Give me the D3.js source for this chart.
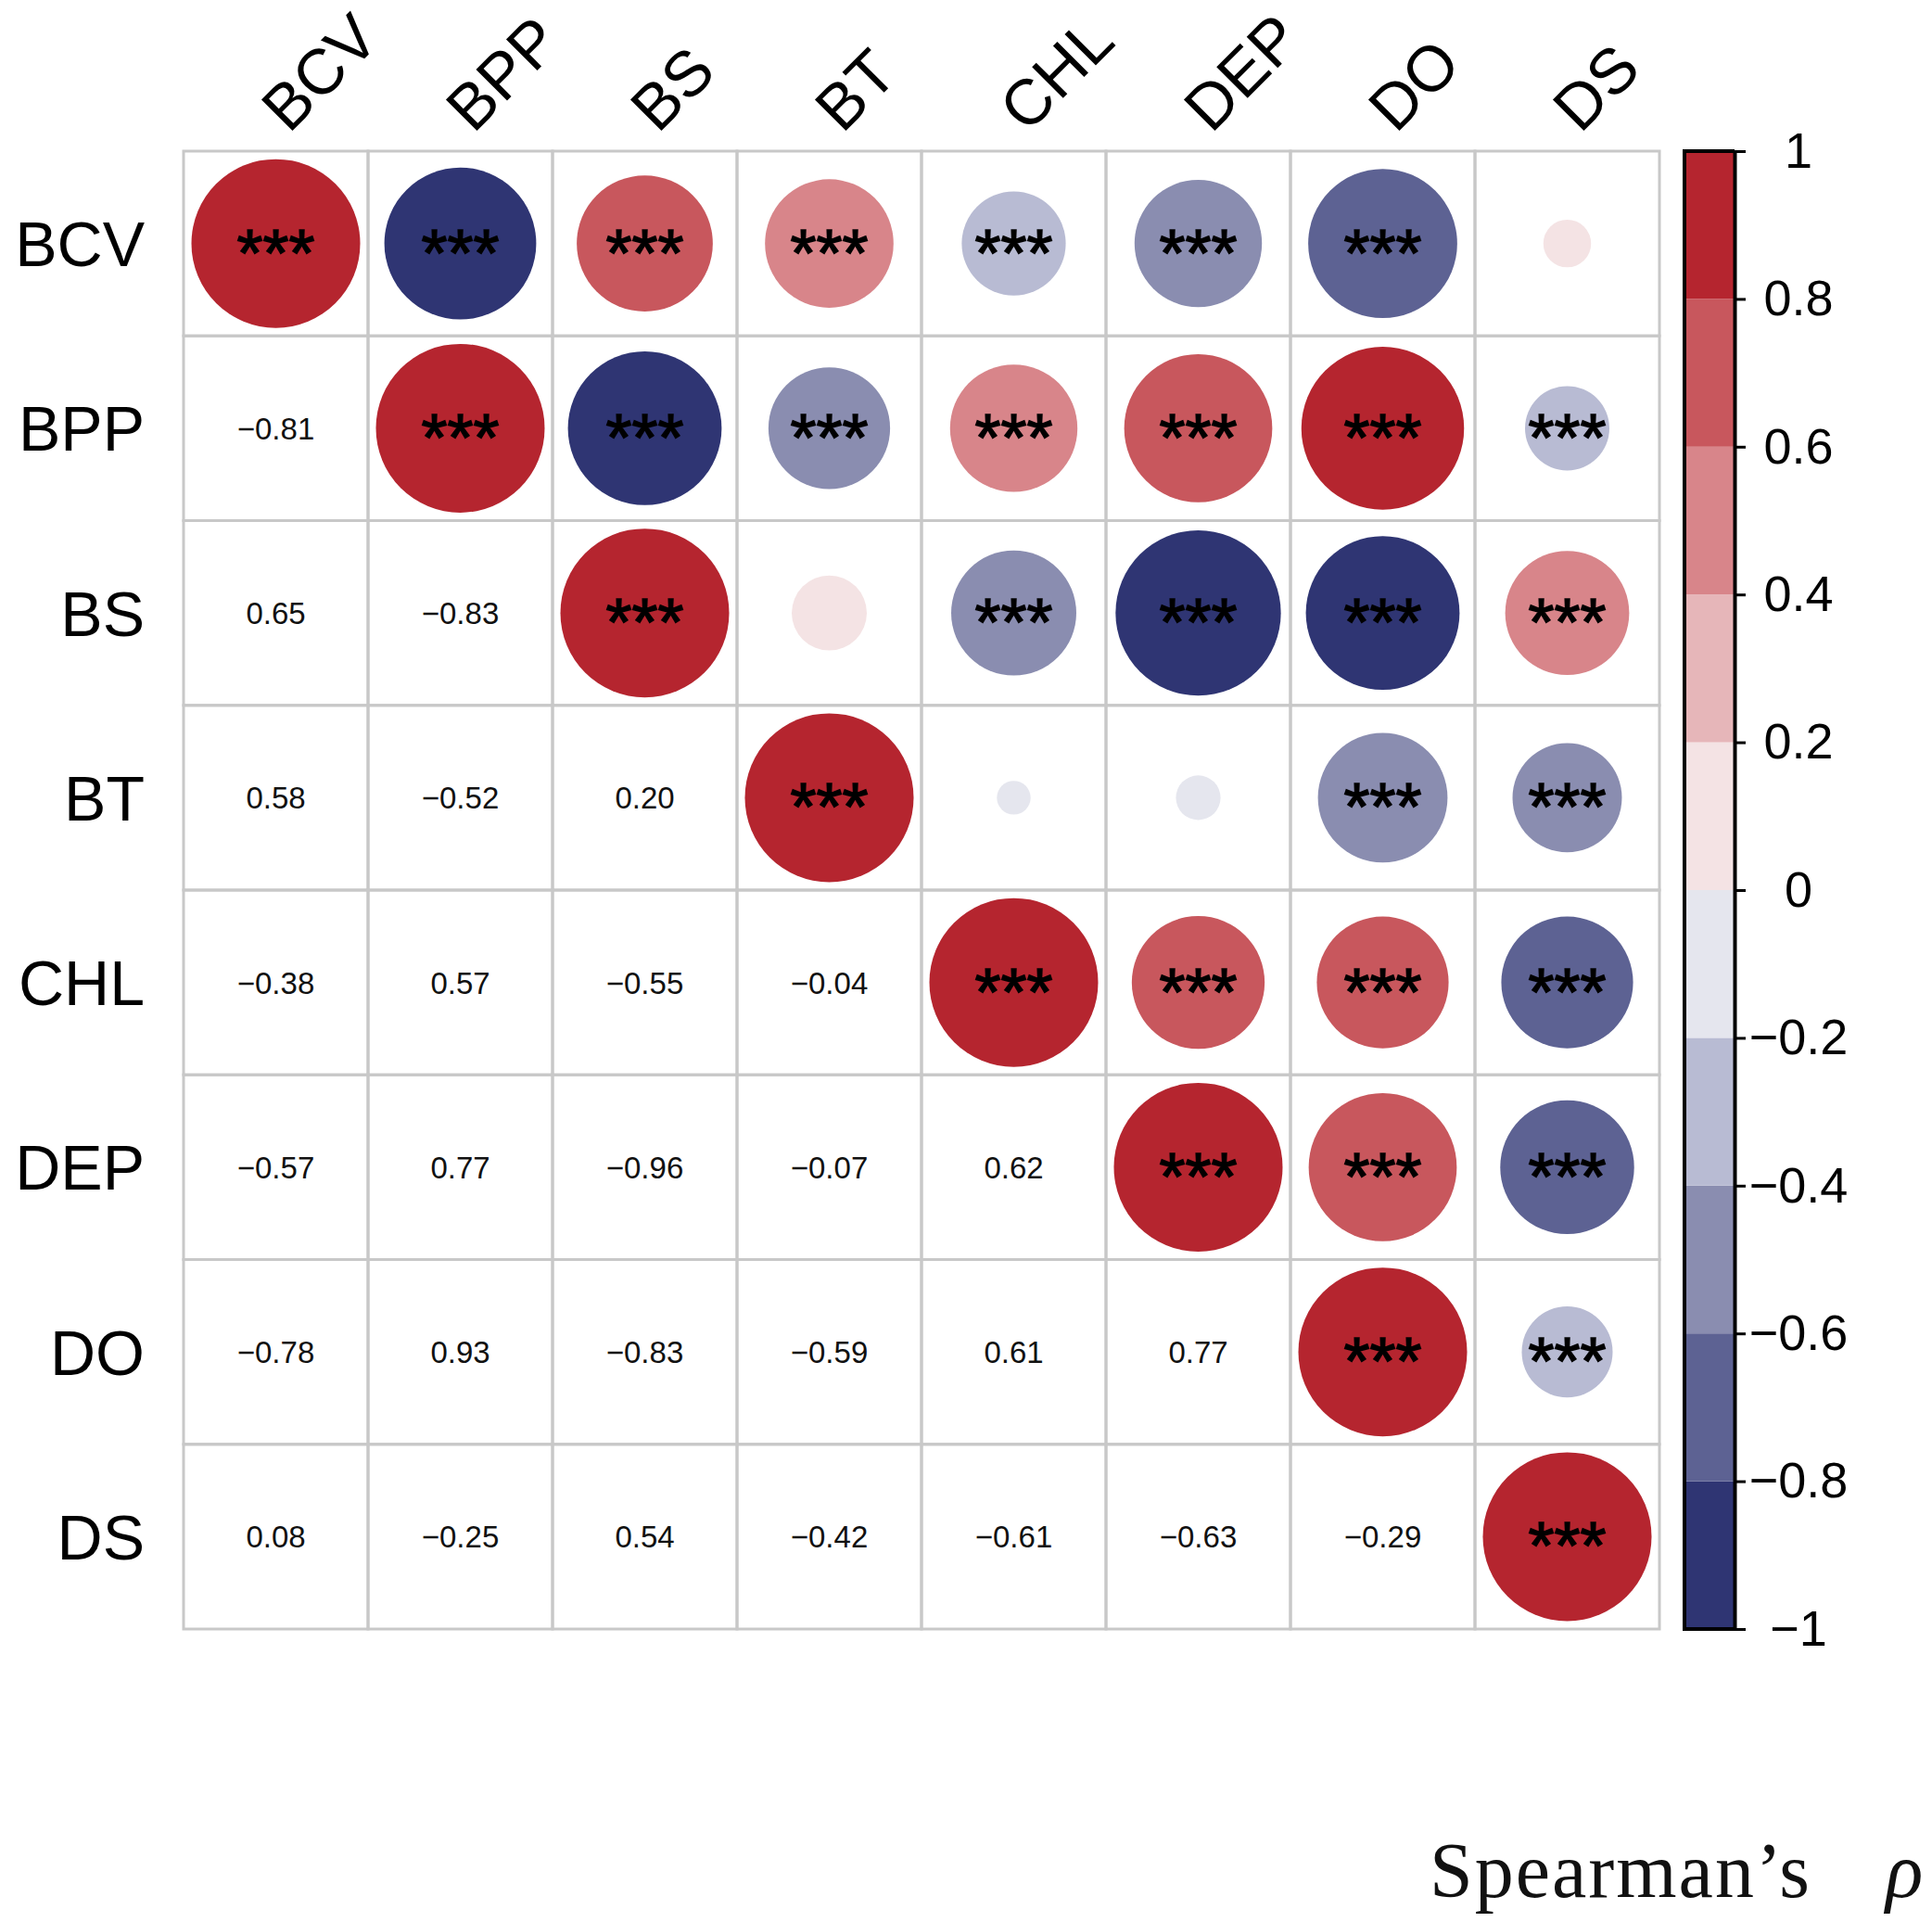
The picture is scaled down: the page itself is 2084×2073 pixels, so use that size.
<!DOCTYPE html>
<html>
<head>
<meta charset="utf-8">
<script src="https://cdn.jsdelivr.net/npm/d3@7"></script>
<style>
  body { margin: 0; background: #fff; }
  .sans { font-family: "Liberation Sans", Arial, sans-serif; }
  .serif { font-family: "Liberation Serif", "Times New Roman", serif; }
</style>
</head>
<body>
<div id="chart-area"></div>
<script>
// variables, in matrix order
var vars = ["BCV", "BPP", "BS", "BT", "CHL", "DEP", "DO", "DS"]

// lower triangle of Spearman's rho, row by row (row i, columns 0..i-1)
var rhoLower = [
  [],
  [-0.81],
  [0.65, -0.83],
  [0.58, -0.52, 0.198],
  [-0.38, 0.57, -0.55, -0.04],
  [-0.57, 0.77, -0.96, -0.07, 0.62],
  [-0.78, 0.93, -0.83, -0.59, 0.61, 0.77],
  [0.08, -0.25, 0.54, -0.42, -0.61, -0.63, -0.29]
]

// significance stars for the same pairs
var sigLower = [
  [],
  ["***"],
  ["***", "***"],
  ["***", "***", ""],
  ["***", "***", "***", ""],
  ["***", "***", "***", "", "***"],
  ["***", "***", "***", "***", "***", "***"],
  ["", "***", "***", "***", "***", "***", "***"]
]

var binColors = ["#2f3573", "#5d6293", "#8a8db0", "#b8bbd3", "#e5e6ee",
                 "#f4e3e4", "#e6b6b9", "#d8858a", "#c8575d", "#b5252f"]
var cbTicks = [-1, -0.8, -0.6, -0.4, -0.2, 0, 0.2, 0.4, 0.6, 0.8, 1]

var width = 2084
var height = 2073

var svg = d3.select("#chart-area")
  .append("svg")
  .attr("width", width)
  .attr("height", height)
  .attr("class", "sans")

svg.append("rect")
  .attr("width", width)
  .attr("height", height)
  .attr("fill", "#fff")

var x = d3.scaleBand().domain(vars).range([198, 1790])
var y = d3.scaleBand().domain(vars).range([163, 1757])
var color = d3.scaleQuantize().domain([-1, 1]).range(binColors)
var radius = d3.scaleSqrt().domain([0, 1]).range([0, 91])

// full matrix from the lower triangle
var cells = []
vars.forEach(function(rv, i) {
  vars.forEach(function(cv, j) {
    var v, s
    if (i === j) { v = 1; s = "***" }
    else if (j < i) { v = rhoLower[i][j]; s = sigLower[i][j] }
    else { v = rhoLower[j][i]; s = sigLower[j][i] }
    cells.push({ row: rv, col: cv, i: i, j: j, value: v, sig: s })
  })
})

var fmt = function(v) {
  return v.toFixed(2).replace("-", "\u2212")
}

// grid
svg.append("g")
  .selectAll("rect")
  .data(cells)
  .enter()
  .append("rect")
  .attr("x", d => x(d.col))
  .attr("y", d => y(d.row))
  .attr("width", x.bandwidth())
  .attr("height", y.bandwidth())
  .attr("fill", "none")
  .attr("stroke", "#c8c8c8")
  .attr("stroke-width", 3)

// upper triangle: circles + stars
var upper = cells.filter(d => d.j >= d.i)

svg.append("g")
  .selectAll("circle")
  .data(upper)
  .enter()
  .append("circle")
  .attr("cx", d => x(d.col) + x.bandwidth() / 2)
  .attr("cy", d => y(d.row) + y.bandwidth() / 2)
  .attr("r", d => radius(Math.abs(d.value)))
  .attr("fill", d => color(d.value))

svg.append("g")
  .selectAll("text")
  .data(upper)
  .enter()
  .append("text")
  .text(d => d.sig)
  .attr("x", d => x(d.col) + x.bandwidth() / 2)
  .attr("y", d => y(d.row) + y.bandwidth() / 2 + 35)
  .attr("text-anchor", "middle")
  .attr("font-size", "72px")
  .attr("fill", "#000")
  .attr("stroke", "#000")
  .attr("stroke-width", 1.5)

// lower triangle: numbers
svg.append("g")
  .selectAll("text")
  .data(cells.filter(d => d.j < d.i))
  .enter()
  .append("text")
  .text(d => fmt(d.value))
  .attr("x", d => x(d.col) + x.bandwidth() / 2)
  .attr("y", d => y(d.row) + y.bandwidth() / 2)
  .attr("dy", "0.36em")
  .attr("text-anchor", "middle")
  .attr("font-size", "33px")
  .attr("fill", "#111")

// row labels
svg.append("g")
  .selectAll("text")
  .data(vars)
  .enter()
  .append("text")
  .text(d => d)
  .attr("x", 156)
  .attr("y", d => y(d) + y.bandwidth() / 2)
  .attr("dy", "0.36em")
  .attr("text-anchor", "end")
  .attr("font-size", "68px")

// column labels
svg.append("g")
  .selectAll("text")
  .data(vars)
  .enter()
  .append("text")
  .text(d => d)
  .attr("transform", d => "translate(" + (x(d) + x.bandwidth() / 2 + 14) + ",145) rotate(-45)")
  .attr("text-anchor", "start")
  .attr("font-size", "69px")

// colour bar
var cb = d3.scaleLinear().domain([-1, 1]).range([1757, 163])
var bins = d3.range(binColors.length).map(function(k) {
  return { lo: cbTicks[k], hi: cbTicks[k + 1], c: binColors[k] }
})

svg.append("g")
  .selectAll("rect")
  .data(bins)
  .enter()
  .append("rect")
  .attr("x", 1817)
  .attr("y", d => cb(d.hi))
  .attr("width", 54)
  .attr("height", d => cb(d.lo) - cb(d.hi))
  .attr("fill", d => d.c)

svg.append("line")
  .attr("x1", 1817).attr("x2", 1817)
  .attr("y1", cb(1) - 2).attr("y2", cb(-1) + 2)
  .attr("stroke", "#000")
  .attr("stroke-width", 4)

svg.append("line")
  .attr("x1", 1817).attr("x2", 1871)
  .attr("y1", cb(1)).attr("y2", cb(1))
  .attr("stroke", "#000")
  .attr("stroke-width", 4)

svg.append("line")
  .attr("x1", 1817).attr("x2", 1871)
  .attr("y1", cb(-1)).attr("y2", cb(-1))
  .attr("stroke", "#000")
  .attr("stroke-width", 4)

var cbAxis = d3.axisRight(cb)
  .tickValues(cbTicks)
  .tickSize(12)
  .tickSizeOuter(0)
  .tickFormat(d => d === 0 ? "0" : (d === 1 || d === -1 ? d3.format("d")(d) : d3.format(".1f")(d)))

var cbG = svg.append("g")
  .attr("transform", "translate(1871,0)")
  .call(cbAxis)

cbG.attr("font-family", null).attr("font-size", null)
cbG.select(".domain").attr("stroke-width", 4)
cbG.selectAll(".tick line").attr("stroke-width", 3)
cbG.selectAll("text")
  .attr("x", 69)
  .attr("text-anchor", "middle")
  .attr("font-size", "54px")
  .attr("fill", "#000")

// legend title
svg.append("text")
  .attr("class", "serif")
  .text("Spearman\u2019s")
  .attr("x", 1542)
  .attr("y", 2046)
  .attr("font-size", "84px")
  .attr("letter-spacing", "2px")
  .attr("fill", "#111")

svg.append("text")
  .attr("class", "serif")
  .text("\u03c1")
  .attr("x", 2034)
  .attr("y", 2046)
  .attr("font-style", "italic")
  .attr("font-size", "84px")
  .attr("fill", "#111")
</script>
</body>
</html>
